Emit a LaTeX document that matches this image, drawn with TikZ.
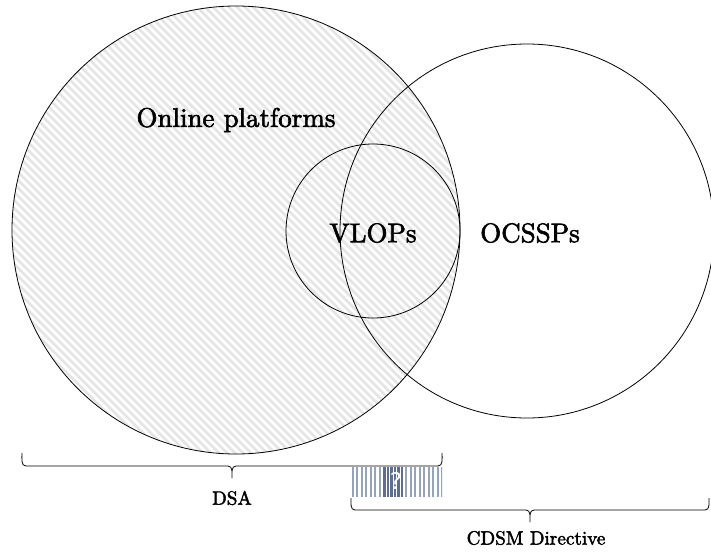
\documentclass[tikz,border=0pt]{standalone}
\usepackage{fontspec}
\setmainfont{Latin Modern Roman}
\newfontfamily\heavyrm{Latin Modern Roman}[FakeBold=2.2]
\newfontfamily\qfont{DejaVu Sans}
\usetikzlibrary{calc}
\definecolor{hatchgray}{RGB}{228,228,228}
\definecolor{barblue}{RGB}{150,163,185}
\definecolor{bardark}{RGB}{95,110,138}
\begin{document}
\begin{tikzpicture}[x=1pt,y=-1pt,
  ring/.style={circle, draw=black, line width=0.8pt, inner sep=0pt},
  hatchline/.style={line width=2.6pt, color=hatchgray},
  setlabel/.style={inner sep=0pt, font=\heavyrm},
  bracepath/.style={line width=0.8pt, line join=round},
  barline/.style={line width=2pt, color=barblue},
  darkbar/.style={line width=2.4pt, color=bardark}]
\useasboundingbox (0,0) rectangle (711,551);

% hatched interior of the large set
\begin{scope}
  \clip (236,230) circle[radius=224];
  \foreach \c in {-580,-572,...,720}
    \draw[hatchline] (\c,-10) -- (\c+580,570);
\end{scope}

% set outlines
\node[ring, minimum size=448pt] (platforms) at (236,230) {};
\node[ring, minimum size=374pt] (ocssp) at (527,231) {};
\node[ring, minimum size=174pt] (vlop) at (373,231) {};

% set names
\node[setlabel] (lplat) at (236,120) {\scalebox{2.7}{Online platforms}};
\node[setlabel] (lvlop) at (373,233) {\scalebox{2.7}{VLOPs}};
\node[setlabel] (locssp) at (530,233) {\scalebox{2.7}{OCSSPs}};

% striped placeholder box
\begin{scope}
  \clip (351,467) rectangle (442,497);
  \foreach \x in {352.5,357,...,380,406,410.5,...,442}
    \draw[barline] (\x,467) -- (\x,497);
  \foreach \x in {384.5,388,391.5,395,398.5,402}
    \draw[darkbar] (\x,467) -- (\x,497);
\end{scope}
\node[inner sep=0pt, text=white, font=\qfont] (qmark) at (396,481) {\scalebox{2.3}{?}};

% braces: vertical hooks at the ends, a short tip in the middle
\coordinate (dsaL) at (22,453);
\coordinate (dsaR) at (442,453);
\coordinate (dsaT) at (232,478);
\coordinate (cdsmL) at (351,498);
\coordinate (cdsmR) at (709,498);
\coordinate (cdsmT) at (530,522);
\draw[bracepath] (dsaL) to[out=-90,in=180] ++(4,13) -- ($(dsaT)+(-4,-12)$)
  to[out=0,in=90] (dsaT) to[out=90,in=180] ($(dsaT)+(4,-12)$)
  -- ($(dsaR)+(-4,13)$) to[out=0,in=-90] (dsaR);
\draw[bracepath] (cdsmL) to[out=-90,in=180] ++(4,12) -- ($(cdsmT)+(-4,-12)$)
  to[out=0,in=90] (cdsmT) to[out=90,in=180] ($(cdsmT)+(4,-12)$)
  -- ($(cdsmR)+(-4,12)$) to[out=0,in=-90] (cdsmR);
\node[setlabel] (ldsa) at (232,498) {\scalebox{1.92}{DSA}};
\node[setlabel] (lcdsm) at (536,538) {\scalebox{1.92}{CDSM Directive}};
\end{tikzpicture}
\end{document}
